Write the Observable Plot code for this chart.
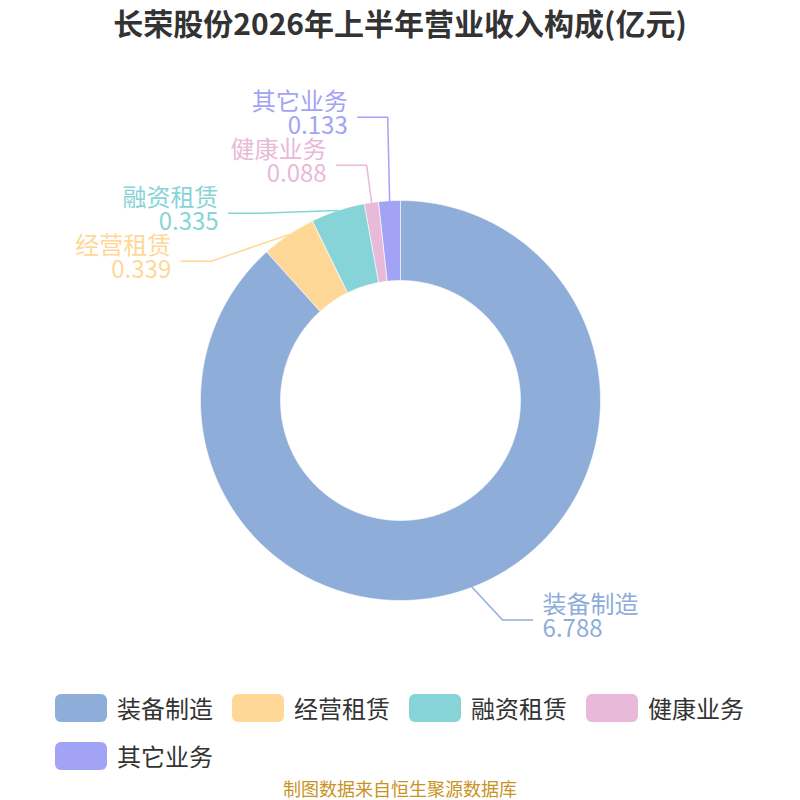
<!DOCTYPE html>
<html>
<head>
<meta charset="utf-8">
<script src="https://cdn.jsdelivr.net/npm/d3@7"></script>
<script src="https://cdn.jsdelivr.net/npm/@observablehq/plot@0.6"></script>
<style>
  html, body { margin: 0; padding: 0; background: #fff; }
  body { width: 800px; height: 800px; position: relative; overflow: hidden;
         font-family: "Noto Sans CJK SC", "Noto Sans", sans-serif; }
  #title { position: absolute; left: 0; top: 0; width: 800px; height: 44px; line-height: 44px;
           text-align: center; font-size: 30px; font-weight: bold; color: #333; }
  #chart { position: absolute; left: 0; top: 50px; }
  #legend { position: absolute; left: 55px; top: 694px; width: 720px; display: flex; flex-wrap: wrap; row-gap: 20px; }
  .item { display: flex; align-items: center; margin-right: 19px; height: 28px; }
  .sw { width: 52px; height: 28px; border-radius: 6px; margin-right: 10px; }
  .lt { font-size: 24px; color: #333; line-height: 28px; }
  #source { position: absolute; left: 0; top: 778px; width: 800px; text-align: center;
            font-size: 18px; color: #C9931F; line-height: 20px; }
</style>
</head>
<body>
<div id="title"></div>
<div id="chart"></div>
<div id="legend"></div>
<div id="source"></div>
<script>
const titleText = "长荣股份2026年上半年营业收入构成(亿元)";
const sourceText = "制图数据来自恒生聚源数据库";
const categories = ["装备制造", "经营租赁", "融资租赁", "健康业务", "其它业务"];
const values = [6.788, 0.339, 0.335, 0.088, 0.133];
const colors = ["#8FADD9", "#FFD898", "#87D4D8", "#E8B9D8", "#A3A3F5"];

document.getElementById("title").textContent = titleText;
document.getElementById("source").textContent = sourceText;

// geometry (pixel units around donut centre, y downward)
const R_OUT = 200, R_IN = 120, R_ELBOW = 235, LEN2 = 30, GAP = 48, TXT_GAP = 10, BIAS = 10;
const total = d3.sum(values);
const TAU = 2 * Math.PI;
let cum = 0;
const slices = categories.map((name, i) => {
  const a0 = cum / total * TAU;
  cum += values[i];
  const a1 = cum / total * TAU;
  return {name, value: values[i], a0, a1, mid: (a0 + a1) / 2};
});

// ring-sector polygons
const poly = [];
for (const s of slices) {
  const n = Math.max(2, Math.ceil((s.a1 - s.a0) / (Math.PI / 360)));
  for (let k = 0; k <= n; k++) {
    const a = s.a0 + (s.a1 - s.a0) * k / n;
    poly.push({name: s.name, x: R_OUT * Math.sin(a), y: -R_OUT * Math.cos(a)});
  }
  for (let k = n; k >= 0; k--) {
    const a = s.a0 + (s.a1 - s.a0) * k / n;
    poly.push({name: s.name, x: R_IN * Math.sin(a), y: -R_IN * Math.cos(a)});
  }
}

// label layout
for (const s of slices) {
  s.side = Math.sin(s.mid) >= 0 ? 1 : -1;
  s.nx = R_ELBOW * Math.sin(s.mid);
  s.ny = -R_ELBOW * Math.cos(s.mid);
  s.ly = s.ny;
}
for (const side of [1, -1]) {
  const g = slices.filter(s => s.side === side).sort((a, b) => a.ny - b.ny);
  for (let i = 1; i < g.length; i++) g[i].ly = Math.max(g[i].ny, g[i - 1].ly + GAP);
  const shift = d3.mean(g, s => s.ny) - d3.mean(g, s => s.ly);
  if (g.length > 1) g.forEach(s => s.ly += shift + BIAS);
}
const leader = [];
for (const s of slices) {
  s.lx = Math.abs(s.ly) < R_ELBOW ? s.side * Math.sqrt(R_ELBOW ** 2 - s.ly ** 2) : s.nx;
  if (s.side > 0) s.lx += 18;
  s.ex = s.lx + s.side * LEN2;
  s.tx = s.ex + s.side * TXT_GAP;
  s.label = s.name + "\n" + s.value.toFixed(3);
  leader.push({name: s.name, x: R_OUT * Math.sin(s.mid), y: -R_OUT * Math.cos(s.mid)});
  leader.push({name: s.name, x: s.lx, y: s.ly});
  leader.push({name: s.name, x: s.ex, y: s.ly});
}

const textOpts = {x: "tx", y: "ly", text: "label", fill: "name", fontSize: 24,
                  lineHeight: 1.0, lineAnchor: "middle", dy: -3, fontFamily: "Noto Sans CJK SC"};

const chart = Plot.plot({
  width: 800, height: 620, margin: 0,
  style: {fontFamily: "Noto Sans CJK SC", background: "white"},
  x: {domain: [-400, 400], range: [0, 800], axis: null},
  y: {domain: [-350, 270], range: [0, 620], axis: null},
  color: {domain: categories, range: colors},
  marks: [
    Plot.line(poly, {x: "x", y: "y", z: "name", fill: "name", stroke: "white", strokeWidth: 0.6, curve: "linear-closed"}),
    Plot.line(leader, {x: "x", y: "y", z: "name", stroke: "name", strokeWidth: 1.5, curve: "linear"}),
    Plot.text(slices.filter(s => s.side > 0), {...textOpts, textAnchor: "start"}),
    Plot.text(slices.filter(s => s.side < 0), {...textOpts, textAnchor: "end"})
  ]
});
document.getElementById("chart").appendChild(chart);

const legend = document.getElementById("legend");
categories.forEach((c, i) => {
  const it = document.createElement("div");
  it.className = "item";
  it.innerHTML = `<div class="sw" style="background:${colors[i]}"></div><div class="lt"></div>`;
  it.querySelector(".lt").textContent = c;
  legend.appendChild(it);
});
</script>
</body>
</html>
